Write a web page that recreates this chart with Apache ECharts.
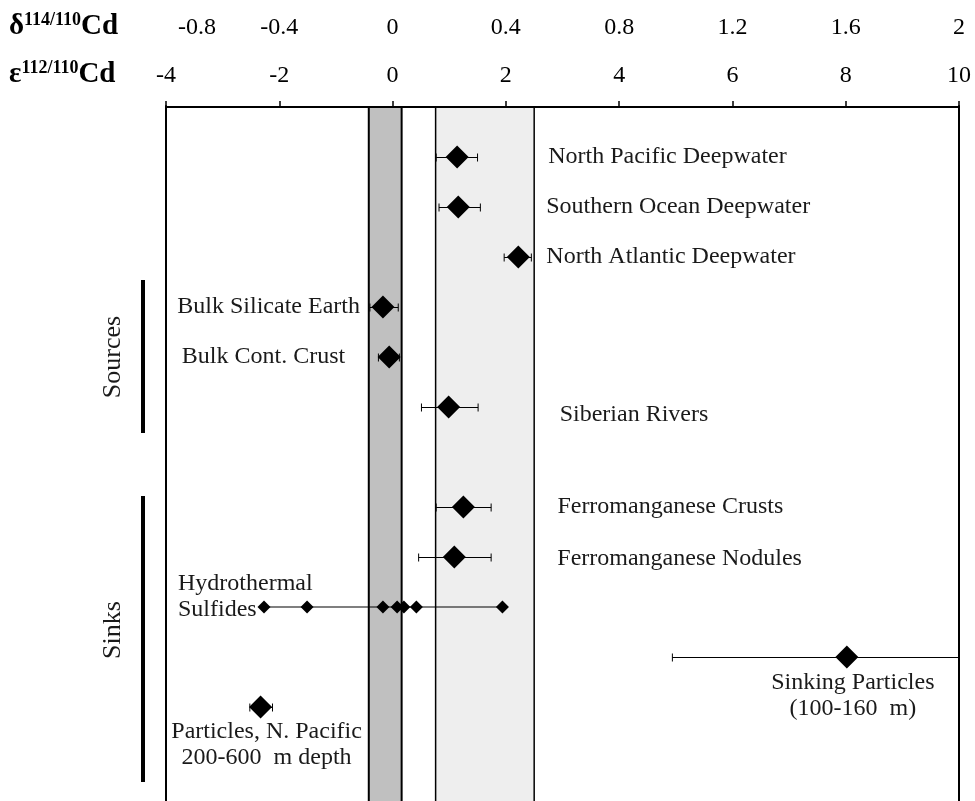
<!DOCTYPE html>
<html lang="en">
<head>
	<meta charset="UTF-8">
	<title>Cd isotopes</title>
	<style>
		html, body { margin: 0; padding: 0; background: #fff; }
	</style>
</head>
<body>
<div id="chart" style="width:975px;height:801px;"></div>
<script src="https://cdn.jsdelivr.net/npm/echarts@6/dist/echarts.min.js"></script>
<script>
	// values, in epsilon 112/110 Cd units
	var names = ['North Pacific Deepwater', 'Southern Ocean Deepwater', 'North Atlantic Deepwater',
		'Bulk Silicate Earth', 'Bulk Cont. Crust', 'Siberian Rivers',
		'Ferromanganese Crusts', 'Ferromanganese Nodules',
		'Sinking Particles\n(100-160  m)', 'Particles, N. Pacific\n200-600  m depth'];
	var rows = [1, 2, 3, 4, 5, 6, 8, 9, 11, 12];
	var epsMean = [1.14, 1.16, 2.22, -0.17, -0.06, 0.99, 1.25, 1.09, 8.02, -2.33];
	var epsLow = [0.77, 0.82, 1.97, -0.40, -0.25, 0.51, 0.77, 0.46, 4.94, -2.52];
	var epsHigh = [1.50, 1.55, 2.45, 0.10, 0.12, 1.51, 1.74, 1.74, 10.0, -2.12];

	var hydroName = 'Hydrothermal\nSulfides';
	var hydroRow = 10;
	var hydroEps = [-2.27, -1.51, -0.17, 0.08, 0.20, 0.42, 1.94];

	// shaded ranges: [from, to, fill]
	var bands = [[-0.42, 0.16, '#c0c0c0'], [0.76, 2.50, '#eeeeee']];
	// group brackets: [name, fromRow, toRow, textRow]
	var groups = [['Sources', 3.46, 6.52, 5.0], ['Sinks', 7.78, 13.5, 10.46]];

	// label placement, pixels from the marker centre
	var labelPlace = [
		['left', 91, 0], ['left', 88, 0], ['left', 28, 0],
		['right', -23, 0], ['right', -44, 0], ['left', 111, 8],
		['left', 94, 0], ['left', 103, 2],
		['center', 6, 39], ['center', 6, 38]
	];

	var serif = 'Liberation Serif';
	var myChart = echarts.init(document.getElementById('chart'));

	var pointData = names.map(function (n, i) {
		var p = labelPlace[i];
		return {
			name: n,
			value: [epsMean[i], rows[i]],
			label: { align: p[0], offset: [p[1], p[2]] }
		};
	});

	var errData = names.map(function (n, i) {
		return [epsLow[i], epsHigh[i], rows[i]];
	});

	var hydroData = hydroEps.map(function (v, i) {
		var d = { value: [v, hydroRow] };
		if (i === 0) {
			d.label = { show: true, formatter: hydroName, align: 'left', offset: [-86, -10] };
		}
		return d;
	});

	var axisLabelStyle = {
		fontFamily: serif, fontSize: 24, color: '#000', margin: 18,
		showMinLabel: true, showMaxLabel: true
	};

	var titleRich = {
		a: { fontFamily: serif, fontSize: 29, fontWeight: 'bold', fill: '#000', lineHeight: 32 },
		s: { fontFamily: serif, fontSize: 18, fontWeight: 'bold', fill: '#000', lineHeight: 20, verticalAlign: 'top' }
	};

	var option = {
		animation: false,
		backgroundColor: '#fff',
		graphic: [
			{ type: 'text', left: 9, top: 11, style: { text: '{a|δ}{s|114/110}{a|Cd}', rich: titleRich } },
			{ type: 'text', left: 9, top: 59, style: { text: '{a|ε}{s|112/110}{a|Cd}', rich: titleRich } }
		],
		grid: { left: 166, right: 16, top: 106, bottom: 0 },
		xAxis: [
			{
				type: 'value', position: 'top', min: -4, max: 10, interval: 2, z: 6,
				axisLine: { show: true, lineStyle: { color: '#000', width: 2 } },
				axisTick: { show: true, inside: false, length: 6, lineStyle: { color: '#000', width: 1.5 } },
				axisLabel: axisLabelStyle,
				splitLine: { show: false }
			},
			{
				type: 'value', position: 'top', offset: 48, min: -0.8, max: 2, interval: 0.4, z: 6,
				axisLine: { show: false },
				axisTick: { show: false },
				axisLabel: Object.assign({}, axisLabelStyle, {
					formatter: function (v) {
						var s = String(+v.toFixed(1));
						return Math.abs(v + 0.8) < 1e-6 ? '{p|' + s + '}' : s;
					},
					rich: { p: { fontFamily: serif, fontSize: 24, color: '#000', padding: [0, 0, 0, 62] } }
				}),
				splitLine: { show: false }
			}
		],
		yAxis: [
			{
				type: 'value', inverse: true, min: -0.02, max: 13.88, position: 'left', z: 6,
				axisLine: { show: true, onZero: false, lineStyle: { color: '#000', width: 2 } },
				axisTick: { show: false }, axisLabel: { show: false }, splitLine: { show: false }
			},
			{
				type: 'value', inverse: true, min: -0.02, max: 13.88, position: 'right', z: 6,
				axisLine: { show: true, onZero: false, lineStyle: { color: '#000', width: 2 } },
				axisTick: { show: false }, axisLabel: { show: false }, splitLine: { show: false }
			}
		],
		series: [
			{
				// grey reference bands, open at the bottom
				type: 'custom', z: 1, silent: true, clip: false,
				encode: { x: [0, 1] },
				data: bands,
				renderItem: function (params, api) {
					var cs = params.coordSys;
					var x1 = api.coord([api.value(0), 1])[0];
					var x2 = api.coord([api.value(1), 1])[0];
					var top = cs.y, bot = cs.y + cs.height + 10;
					var w = params.dataIndex === 0 ? 2 : 1.5;
					var st = { stroke: '#000', lineWidth: w };
					return {
						type: 'group',
						children: [
							{ type: 'rect', shape: { x: x1, y: top, width: x2 - x1, height: bot - top }, style: { fill: bands[params.dataIndex][2] } },
							{ type: 'line', shape: { x1: x1, y1: top, x2: x1, y2: bot }, style: st },
							{ type: 'line', shape: { x1: x2, y1: top, x2: x2, y2: bot }, style: st }
						]
					};
				}
			},
			{
				// error bars
				type: 'custom', z: 3, silent: true, clip: false,
				encode: { x: [0, 1], y: 2 },
				data: errData,
				renderItem: function (params, api) {
					var y = Math.round(api.coord([0, api.value(2)])[1]) + 0.5;
					var lo = api.coord([api.value(0), 0])[0];
					var hi = api.coord([api.value(1), 0])[0];
					var c = 4;
					var st = { stroke: '#000', lineWidth: 1 };
					return {
						type: 'group',
						children: [
							{ type: 'line', shape: { x1: lo, y1: y, x2: hi, y2: y }, style: st },
							{ type: 'line', shape: { x1: lo, y1: y - c, x2: lo, y2: y + c }, style: st },
							{ type: 'line', shape: { x1: hi, y1: y - c, x2: hi, y2: y + c }, style: st }
						]
					};
				}
			},
			{
				type: 'scatter', z: 4, silent: true,
				symbol: 'diamond', symbolSize: [23, 23],
				itemStyle: { color: '#000', opacity: 1 },
				label: {
					show: true, position: 'inside', verticalAlign: 'middle',
					formatter: '{b}', fontFamily: serif, fontSize: 24, lineHeight: 26,
					color: '#1a1a1a', textBorderWidth: 0
				},
				data: pointData
			},
			{
				type: 'line', z: 4, silent: true,
				symbol: 'diamond', symbolSize: [13, 13], showSymbol: true,
				itemStyle: { color: '#000' },
				lineStyle: { color: '#000', width: 1.2 },
				label: {
					show: false, position: 'inside', verticalAlign: 'middle',
					fontFamily: serif, fontSize: 24, lineHeight: 26,
					color: '#1a1a1a', textBorderWidth: 0
				},
				data: hydroData
			},
			{
				// Sources / Sinks brackets left of the plot
				type: 'custom', z: 4, silent: true, clip: false,
				encode: { y: [1, 2] },
				data: groups,
				renderItem: function (params, api) {
					var g = groups[params.dataIndex];
					var x = params.coordSys.x;
					var y1 = api.coord([-4, g[1]])[1];
					var y2 = api.coord([-4, g[2]])[1];
					var yt = api.coord([-4, g[3]])[1];
					return {
						type: 'group',
						children: [
							{ type: 'rect', shape: { x: x - 25, y: y1, width: 4, height: y2 - y1 }, style: { fill: '#000' } },
							{
								type: 'text', x: x - 53, y: yt, rotation: Math.PI / 2,
								style: {
									text: g[0], fontFamily: serif, fontSize: 26, fill: '#1a1a1a',
									align: 'center', verticalAlign: 'middle'
								}
							}
						]
					};
				}
			}
		]
	};

	myChart.setOption(option);
</script>
</body>
</html>
